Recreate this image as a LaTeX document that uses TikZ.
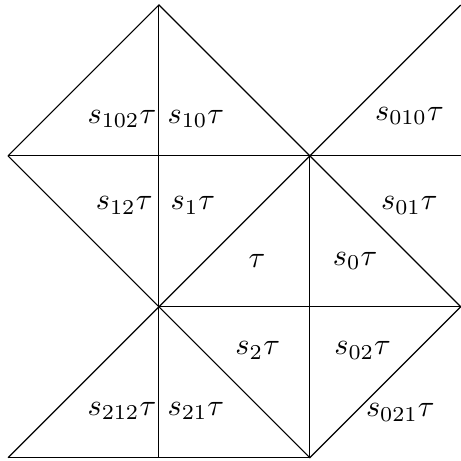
\documentclass[tikz,border=0pt]{standalone}
\begin{document}
\begin{tikzpicture}[x=1.75cm,y=1.75cm,line width=0.4pt,
  lbl/.style={inner sep=0pt}]
\useasboundingbox (-1.053,-1.022) rectangle (2.0,2.033);
\coordinate (L) at (-1,1);
\coordinate (T) at (0,2);
\coordinate (C) at (1,1);
\coordinate (TR) at (2,2);
\coordinate (E1) at (2,1);
\coordinate (M) at (0,0);
\coordinate (R) at (2,0);
\coordinate (BL) at (-1,-1);
\coordinate (B0) at (0,-1);
\coordinate (B1) at (1,-1);
\coordinate (X1) at (1,0);
\draw (L) -- (T) -- (R) -- (B1) -- (M) -- (L);
\draw (L) -- (E1);
\draw (T) -- (B0);
\draw (TR) -- (BL);
\draw (M) -- (R);
\draw (C) -- (B1);
\draw (BL) -- (B1);
\node[lbl] (a) at (-0.245,1.245) {$s_{102}\tau$};
\node[lbl] (b) at (0.245,1.245) {$s_{10}\tau$};
\node[lbl] (c) at (1.66,1.265) {$s_{010}\tau$};
\node[lbl] (d) at (-0.23,0.67) {$s_{12}\tau$};
\node[lbl] (e) at (0.225,0.67) {$s_{1}\tau$};
\node[lbl] (f) at (1.66,0.67) {$s_{01}\tau$};
\node[lbl] (g) at (0.65,0.305) {$\tau$};
\node[lbl] (h) at (1.30,0.305) {$s_{0}\tau$};
\node[lbl] (i) at (0.655,-0.29) {$s_{2}\tau$};
\node[lbl] (j) at (1.35,-0.29) {$s_{02}\tau$};
\node[lbl] (k) at (1.6,-0.70) {$s_{021}\tau$};
\node[lbl] (l) at (-0.245,-0.69) {$s_{212}\tau$};
\node[lbl] (m) at (0.245,-0.69) {$s_{21}\tau$};
\end{tikzpicture}
\end{document}
